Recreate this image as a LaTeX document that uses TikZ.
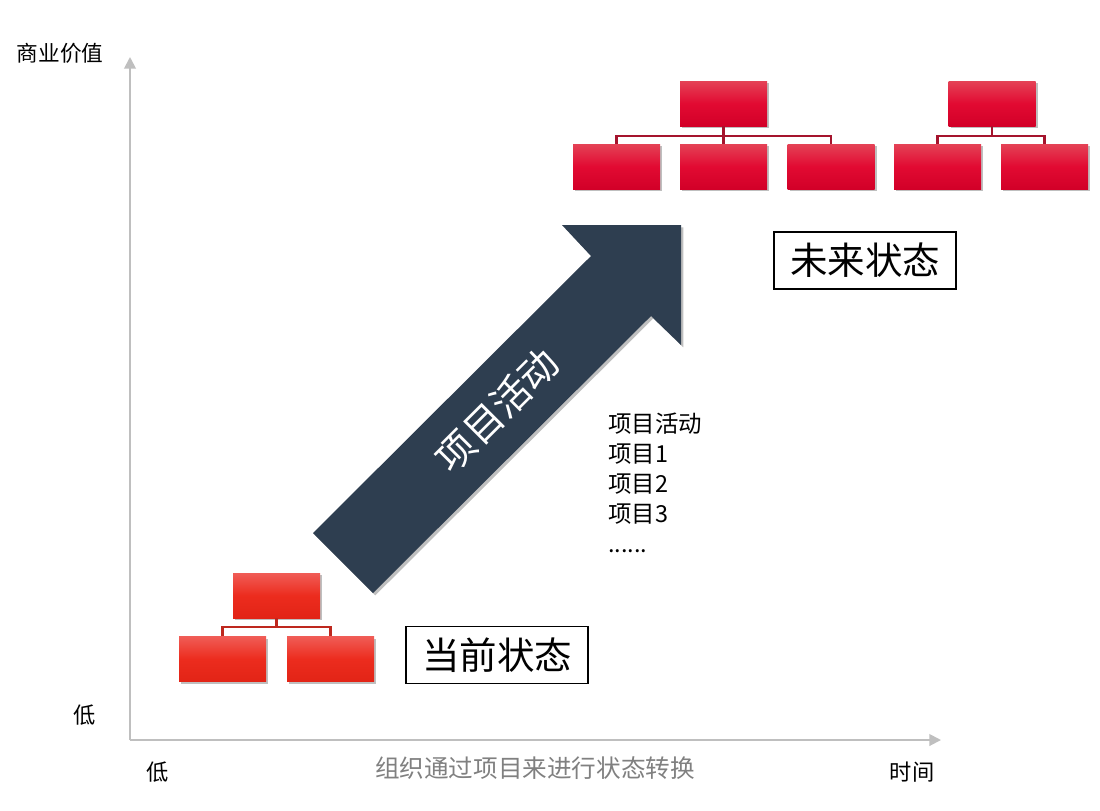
\documentclass[tikz,border=0pt]{standalone}
\usepackage{fontspec}
\setmainfont{Noto Sans CJK SC}
\usepackage{tikz}
\usetikzlibrary{arrows.meta,shadows}

\definecolor{axisgray}{RGB}{191,191,191}
\definecolor{arrowblue}{RGB}{46,62,80}
\definecolor{redtop}{RGB}{228,66,86}
\definecolor{redmid}{RGB}{226,10,50}
\definecolor{redbot}{RGB}{210,0,40}
\definecolor{orangetop}{RGB}{240,92,86}
\definecolor{orangemid}{RGB}{236,44,30}
\definecolor{orangebot}{RGB}{226,36,22}
\definecolor{linkred}{RGB}{165,20,45}
\definecolor{linkorange}{RGB}{190,40,30}

\tikzset{
  unitbox/.style={minimum width=2.61cm, minimum height=1.35cm, inner sep=0pt,
    drop shadow={shadow xshift=2pt, shadow yshift=-2pt, opacity=0.25, fill=black}},
  futurebox/.style={unitbox, top color=redtop, bottom color=redbot, middle color=redmid},
  nowbox/.style={unitbox, top color=orangetop, bottom color=orangebot, middle color=orangemid},
  statebox/.style={draw=black, line width=1pt, fill=white, minimum width=5.46cm,
    minimum height=1.71cm, font=\fontsize{32}{36}\selectfont},
  axis/.style={axisgray, line width=1.6pt, -{Triangle[width=10pt,length=10pt]}},
  futurelink/.style={linkred, line width=2pt},
  nowlink/.style={linkorange, line width=2pt}
}

\begin{document}
\begin{tikzpicture}[x=0.03cm, y=-0.03cm]
 \useasboundingbox (0,0) rectangle (1100,810);

 % axes
 \coordinate (origin) at (130,740);
 \coordinate (ytip) at (130,57);
 \coordinate (xtip) at (941,740);
 \draw[axis] (origin) -- (ytip);
 \draw[axis] (origin) -- (xtip);

 \node (yname) at (60,53) {\fontsize{18.5}{20}\selectfont 商业价值};
 \node (ylow) at (85,715) {\fontsize{19}{20}\selectfont 低};
 \node (xlow) at (158,772) {\fontsize{19}{20}\selectfont 低};
 \node (xname) at (912,772) {\fontsize{19}{20}\selectfont 时间};
 \node[text=gray] (caption) at (535,768) {\fontsize{21}{22}\selectfont 组织通过项目来进行状态转换};

 % big arrow
 \fill[arrowblue, drop shadow={shadow xshift=2pt, shadow yshift=-2pt, opacity=0.25, fill=black}]
   (313,533) -- (591,256) -- (562,225) -- (681,225) -- (681,345) -- (651,316) -- (373,593) -- cycle;
 \node[text=white, rotate=45] (arrowtext) at (497,410) {\fontsize{33}{36}\selectfont 项目活动};

 % future org chart
 \node[futurebox] (t1) at (723.5,103.5) {};
 \node[futurebox] (b1) at (616.5,166.5) {};
 \node[futurebox] (b2) at (723.5,166.5) {};
 \node[futurebox] (b3) at (831,166.5) {};
 \node[futurebox] (t2) at (992,103.5) {};
 \node[futurebox] (b4) at (937.5,166.5) {};
 \node[futurebox] (b5) at (1044.5,166.5) {};

 \draw[futurelink] (t1.south) -- ++(0,10) -| (b1.north);
 \draw[futurelink] (t1.south) -- ++(0,10) -| (b3.north);
 \draw[futurelink] (t1.south) -- (b2.north);
 \draw[futurelink] (t2.south) -- ++(0,10) -| (b4.north);
 \draw[futurelink] (t2.south) -- ++(0,10) -| (b5.north);

 % current org chart
 \node[nowbox] (t0) at (276.5,595.5) {};
 \node[nowbox] (c1) at (222.5,659) {};
 \node[nowbox] (c2) at (330.5,659) {};

 \draw[nowlink] (t0.south) -- ++(0,9) -| (c1.north);
 \draw[nowlink] (t0.south) -- ++(0,9) -| (c2.north);

 % state labels
 \node[statebox] (future) at (865,260.5) {未来状态};
 \node[statebox] (now) at (497,655) {当前状态};

 % project list
 \node[anchor=north west, align=left, inner sep=0pt, font=\fontsize{20}{25.5}\selectfont]
   (projects) at (608,413) {项目活动\\项目1\\项目2\\项目3\\......};
\end{tikzpicture}
\end{document}
